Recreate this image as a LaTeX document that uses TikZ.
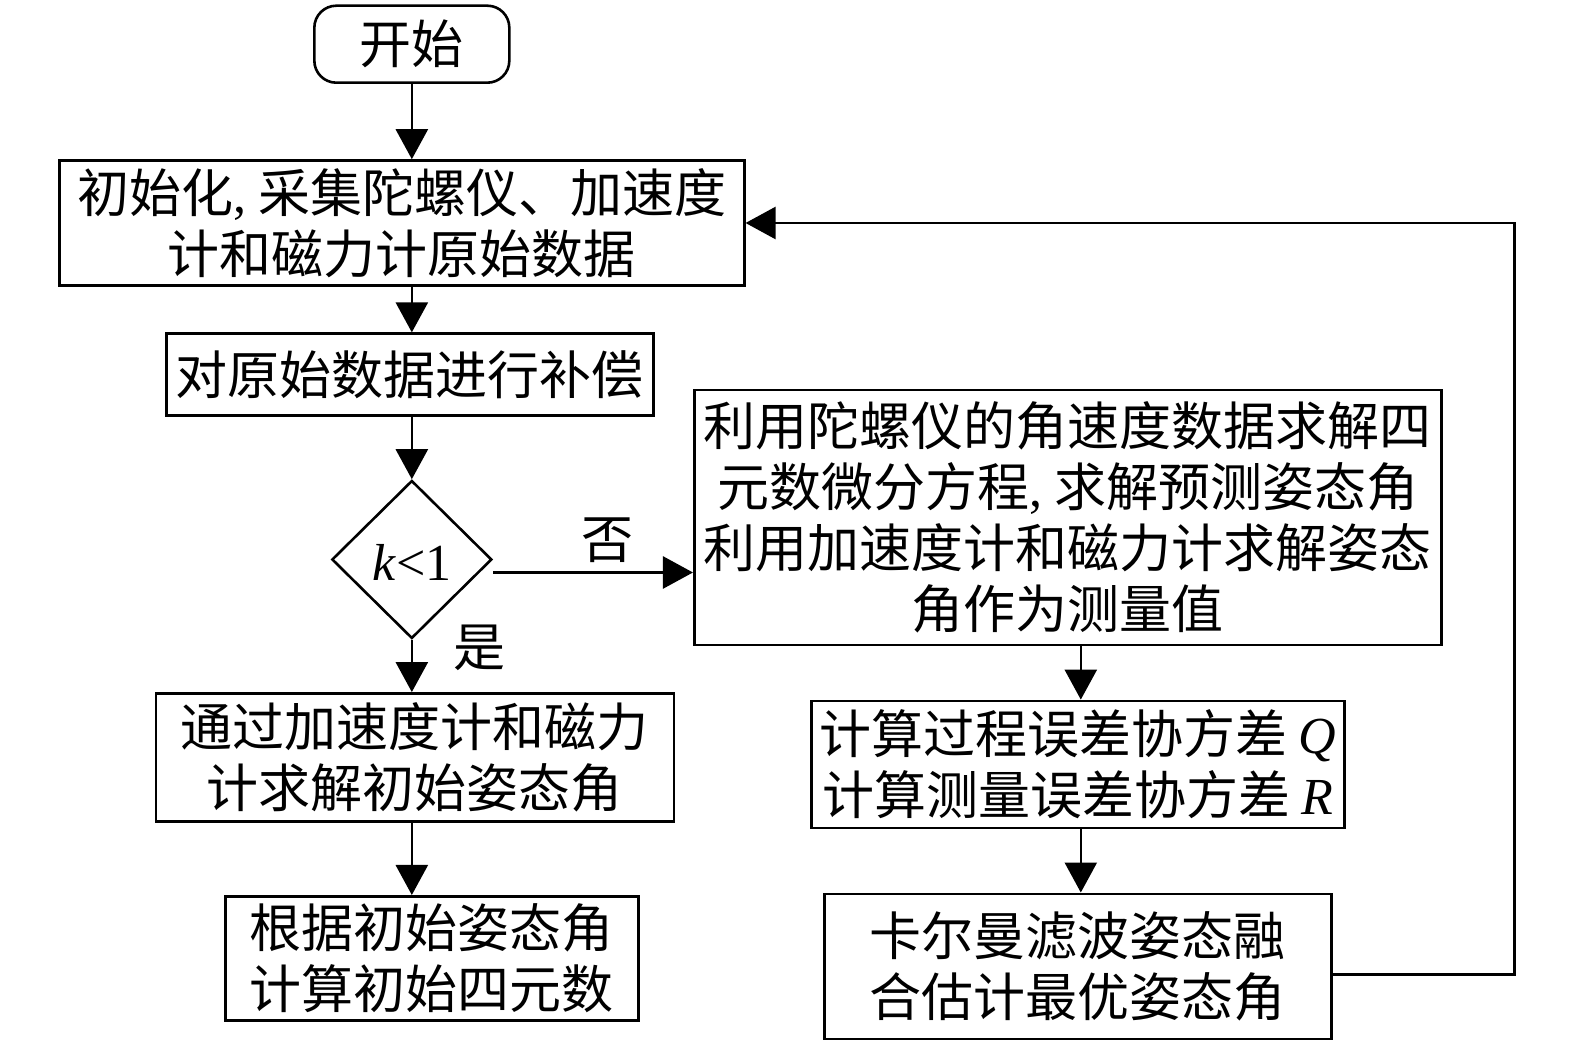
\documentclass[tikz,border=0pt]{standalone}
\usepackage{fontspec}
\setmainfont{Liberation Serif}
\newfontfamily\cjk{Noto Sans CJK SC}
\newfontfamily\lat{Liberation Serif}
\usetikzlibrary{arrows.meta,shapes.geometric}
\newcommand\boxfont{\cjk\fontsize{52}{61}\selectfont}
\tikzset{
  box/.style={draw, line width=2.6pt, inner sep=0pt, align=center, font=\boxfont},
  arr/.style={line width=2.6pt, -{Triangle[length=30pt,width=32pt]}},
  ln/.style={line width=2.6pt},
  lbl/.style={font=\boxfont, inner sep=0pt}
}
\begin{document}
\begin{tikzpicture}[x=1.0045pt,y=-1.0045pt]
\useasboundingbox (0,0) rectangle (1568,1042);
\node[box, rounded corners=22pt, minimum width=195pt, minimum height=77pt] (start) at (410,44) {开始};
\node[box, minimum width=685pt, minimum height=125pt] (b1) at (400,222) {初始化{\lat,} 采集陀螺仪、加速度\\计和磁力计原始数据};
\node[box, minimum width=487pt, minimum height=82pt] (b2) at (408,373) {对原始数据进行补偿};
\node[draw, line width=2.6pt, shape=diamond, inner sep=0pt, minimum width=160pt, minimum height=158pt] (d) at (410,557) {};
\node[font=\lat\fontsize{52}{60}\selectfont, inner sep=0pt] (dt) at (410,560) {\textit{k}<1};
\node[box, minimum width=747pt, minimum height=255pt] (b3) at (1063,515) {利用陀螺仪的角速度数据求解四\\元数微分方程{\lat,} 求解预测姿态角\\利用加速度计和磁力计求解姿态\\角作为测量值};
\node[box, minimum width=518pt, minimum height=128pt] (b4) at (413,754) {通过加速度计和磁力\\计求解初始姿态角};
\node[box, minimum width=413pt, minimum height=124pt] (b5) at (430,954) {根据初始姿态角\\计算初始四元数};
\node[box, minimum width=533pt, minimum height=127pt] (b6) at (1073,761) {计算过程误差协方差 {\lat\itshape Q}\\计算测量误差协方差 {\lat\itshape R}};
\node[box, minimum width=507pt, minimum height=145pt] (b7) at (1073,962) {卡尔曼滤波姿态融\\合估计最优姿态角};
\node[lbl] (no) at (605,538) {否};
\node[lbl] (yes) at (477,645) {是};
% connectors
\draw[arr] (start.south) -- (start.south |- b1.north);
\coordinate (c1) at (410,0);
\draw[arr] (c1 |- b1.south) -- (c1 |- b2.north);
\draw[arr] (c1 |- b2.south) -- (d.north);
\draw[arr] (d.south) -- (c1 |- b4.north);
\draw[arr] (c1 |- b4.south) -- (c1 |- b5.north);
\coordinate (dn) at ([yshift=-13pt]d.east);
\draw[arr] (dn) -- (dn -| b3.west);
\coordinate (c2) at (1076,0);
\draw[arr] (c2 |- b3.south) -- (c2 |- b6.north);
\draw[arr] (c2 |- b6.south) -- (c2 |- b7.north);
\coordinate (fb) at (1508,0);
\coordinate (b7o) at ([yshift=-8pt]b7.east);
\draw[arr] (b7o) -- (b7o -| fb) -- (fb |- b1.east) -- (b1.east);
\end{tikzpicture}
\end{document}
